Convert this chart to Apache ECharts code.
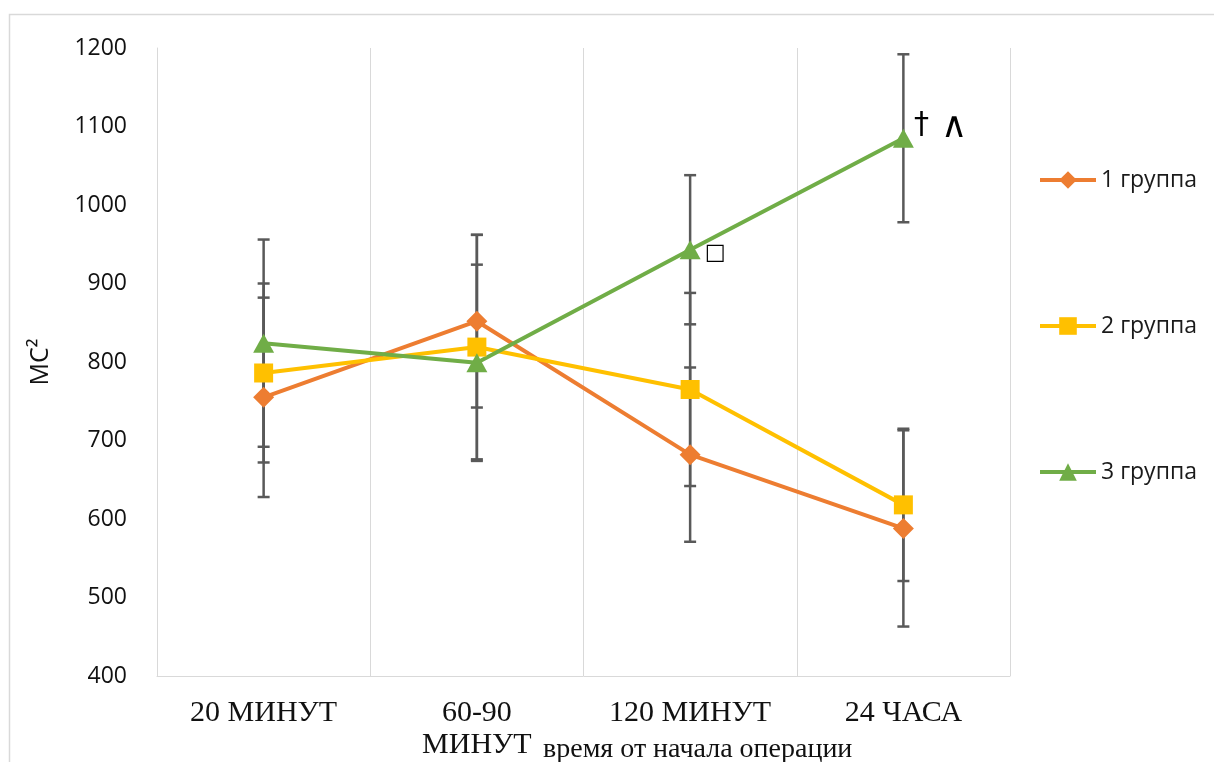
<!DOCTYPE html>
<html>
<head>
<meta charset="utf-8">
<script src="https://cdn.jsdelivr.net/npm/echarts@6/dist/echarts.min.js"></script>
<style>
  html, body { margin: 0; padding: 0; background: #fff; }
  #chart { width: 1214px; height: 762px; }
</style>
</head>
<body>
<div id="chart"></div>
<script>
// Time points after the start of surgery
const categories = ['20 МИНУТ', '60-90\nМИНУТ', '120 МИНУТ', '24 ЧАСА'];
const yTicks = [400, 500, 600, 700, 800, 900, 1000, 1100, 1200];

// Group means (мс²) and standard deviations
const group1 = [755, 852, 682, 588];
const group1Sd = [127, 110, 111, 125];
const group2 = [786, 819, 765, 618];
const group2Sd = [114, 143, 123, 97];
const group3 = [824, 799, 943, 1085];
const group3Sd = [132, 125, 95, 107];

// Significance markers placed next to group 3 points
const group3Notes = ['', '', '□', '†∧'];

const groupNames = ['1 группа', '2 группа', '3 группа'];
const colors = ['#ED7D31', '#FFC000', '#70AD47'];

const chart = echarts.init(document.getElementById('chart'), null, { renderer: 'canvas' });

function errorSeries(means, sds, idx) {
  return {
    type: 'custom',
    name: 'sd-' + idx,
    z: 1,
    silent: true,
    data: means.map((m, i) => [i, m, sds[i]]),
    encode: { x: 0, y: 1 },
    renderItem: function (params, api) {
      const x = api.value(0);
      const m = api.value(1);
      const s = api.value(2);
      const top = api.coord([x, m + s]);
      const bot = api.coord([x, m - s]);
      const cap = 6;
      const style = { stroke: '#595959', lineWidth: 2.5 };
      return {
        type: 'group',
        children: [
          { type: 'line', shape: { x1: top[0], y1: top[1], x2: bot[0], y2: bot[1] }, style },
          { type: 'line', shape: { x1: top[0] - cap, y1: top[1], x2: top[0] + cap, y2: top[1] }, style },
          { type: 'line', shape: { x1: bot[0] - cap, y1: bot[1], x2: bot[0] + cap, y2: bot[1] }, style }
        ]
      };
    }
  };
}

function lineSeries(name, values, color, symbol, symbolSize) {
  return {
    type: 'line',
    name: name,
    z: 3,
    data: values,
    symbol: symbol,
    symbolSize: symbolSize,
    lineStyle: { color: color, width: 4 },
    itemStyle: { color: color },
    emphasis: { disabled: true }
  };
}

const series3 = lineSeries(groupNames[2], group3.map((v, i) => {
  const note = group3Notes[i];
  if (!note) return v;
  if (note === '□') {
    return {
      value: v,
      label: {
        show: true, position: 'right', distance: 4, offset: [0, 4],
        formatter: '□', fontFamily: 'DejaVu Sans', fontSize: 22, color: '#000'
      }
    };
  }
  return {
    value: v,
    label: {
      show: true, position: 'right', distance: 0, offset: [0, -13],
      formatter: '{a|†}{b|∧}',
      rich: {
        a: { fontFamily: 'DejaVu Sans', fontSize: 30, color: '#000' },
        b: { fontFamily: 'DejaVu Sans', fontSize: 36, color: '#000', padding: [4, 0, 0, 12] }
      }
    }
  };
}), colors[2], 'triangle', [21, 19]);

const option = {
  animation: false,
  backgroundColor: '#fff',
  grid: { left: 157, right: 204, top: 48, bottom: 86 },
  legend: {
    orient: 'vertical',
    left: 1033,
    top: 163,
    itemWidth: 56,
    itemHeight: 22,
    itemGap: 122,
    data: groupNames,
    lineStyle: { width: 4 },
    textStyle: { fontFamily: 'Open Sans', fontSize: 23, color: '#1a1a1a', lineHeight: 24 },
    selectedMode: false
  },
  xAxis: {
    type: 'category',
    data: categories,
    boundaryGap: true,
    axisLine: { show: true, lineStyle: { color: '#d9d9d9', width: 1 } },
    axisTick: { show: false },
    splitLine: { show: true, lineStyle: { color: '#d9d9d9', width: 1 } },
    axisLabel: {
      interval: 0,
      margin: 21,
      fontFamily: 'Liberation Serif',
      fontSize: 30,
      lineHeight: 32,
      color: '#111'
    }
  },
  yAxis: {
    type: 'value',
    min: yTicks[0],
    max: yTicks[yTicks.length - 1],
    interval: 100,
    name: 'МС²',
    nameLocation: 'middle',
    nameGap: 104,
    nameTextStyle: { fontFamily: 'Open Sans', fontSize: 25, color: '#111' },
    axisLine: { show: true, lineStyle: { color: '#d9d9d9', width: 1 } },
    axisTick: { show: false },
    splitLine: { show: false },
    axisLabel: {
      margin: 30, fontFamily: 'Open Sans', fontSize: 23, color: '#111',
      formatter: v => String(v)
    }
  },
  graphic: [
    {
      type: 'rect',
      silent: true,
      shape: { x: 9.5, y: 14.5, width: 1400, height: 900 },
      style: { fill: 'none', stroke: '#d9d9d9', lineWidth: 1.5 }
    },
    {
      type: 'text',
      silent: true,
      x: 543,
      y: 750,
      style: {
        text: 'время от начала операции',
        fontFamily: 'Liberation Serif',
        fontSize: 28,
        fill: '#111',
        textAlign: 'left',
        textVerticalAlign: 'middle'
      }
    }
  ],
  series: [
    errorSeries(group1, group1Sd, 1),
    errorSeries(group2, group2Sd, 2),
    errorSeries(group3, group3Sd, 3),
    lineSeries(groupNames[0], group1, colors[0], 'diamond', [21, 21]),
    lineSeries(groupNames[1], group2, colors[1], 'rect', [19, 19]),
    series3
  ]
};

chart.setOption(option);
</script>
</body>
</html>
